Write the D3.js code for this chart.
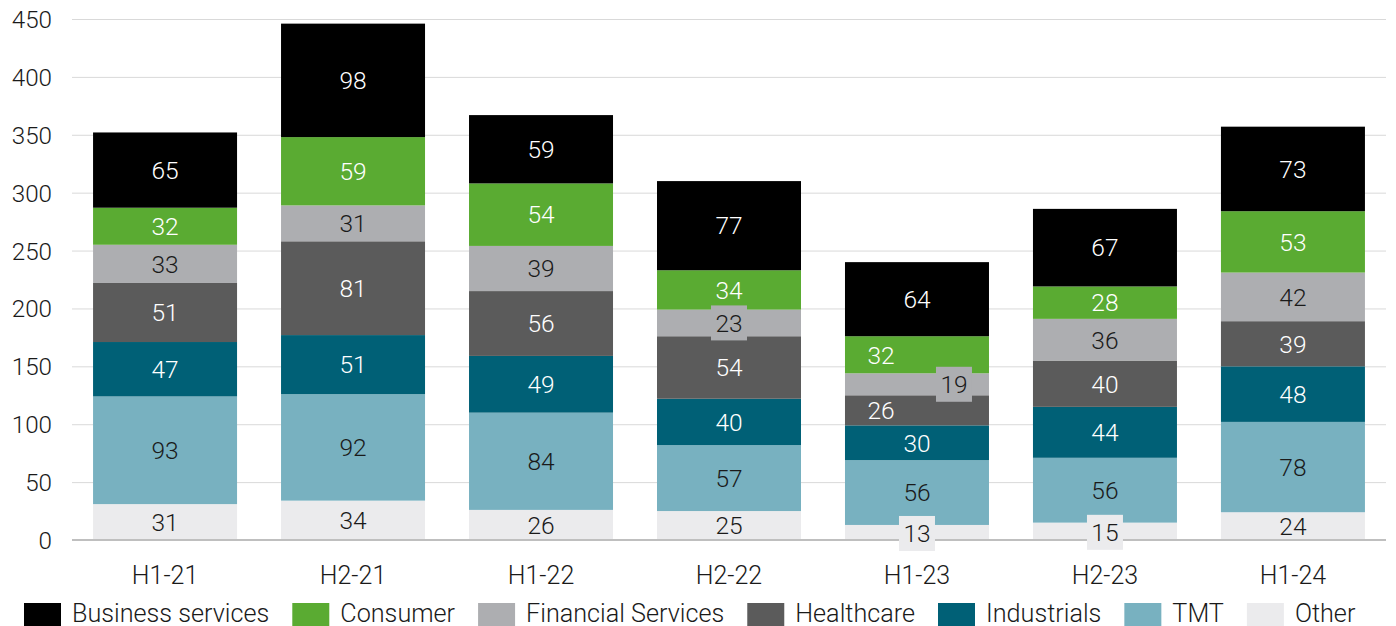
<!DOCTYPE html>
<html><head><meta charset="utf-8">
<script src="https://cdn.jsdelivr.net/npm/d3@7"></script>
<style>
html,body{margin:0;padding:0;background:#fff;}
svg{display:block;font-family:Roboto,"Noto Sans",sans-serif;font-weight:300;}
</style></head>
<body><svg id="chart" width="1396" height="626"></svg>
<script>
const categories = ["H1-21","H2-21","H1-22","H2-22","H1-23","H2-23","H1-24"];
const seriesNames = ["Other","TMT","Industrials","Healthcare","Financial Services","Consumer","Business services"];
const other      = [31,34,26,25,13,15,24];
const tmt        = [93,92,84,57,56,56,78];
const industrials= [47,51,49,40,30,44,48];
const healthcare = [51,81,56,54,26,40,39];
const financial  = [33,31,39,23,19,36,42];
const consumer   = [32,59,54,34,32,28,53];
const business   = [65,98,59,77,64,67,73];
const yTicks = [0,50,100,150,200,250,300,350,400,450];
const legendOrder = ["Business services","Consumer","Financial Services","Healthcare","Industrials","TMT","Other"];

const seriesValues = {"Other":other,"TMT":tmt,"Industrials":industrials,"Healthcare":healthcare,
  "Financial Services":financial,"Consumer":consumer,"Business services":business};
const colors = {"Business services":"#000000","Consumer":"#5aab32","Financial Services":"#adaeb1",
  "Healthcare":"#5b5b5b","Industrials":"#006076","TMT":"#78b1c0","Other":"#ebebed"};
const labelColors = {"Business services":"#fff","Consumer":"#fff","Financial Services":"#1a1a1a",
  "Healthcare":"#fff","Industrials":"#fff","TMT":"#1a1a1a","Other":"#1a1a1a"};
// label nudges (px) and boxed labels
const nudge = {"H1-23|Financial Services":37,"H1-23|Consumer":-36,"H1-23|Healthcare":-36};
const boxed = {"H2-22|Financial Services":true,"H1-23|Financial Services":true,"H1-23|Other":true,"H2-23|Other":true};
const boxShiftY = {"H1-23|Other":1,"H2-23|Other":1};

const rows = categories.map((c,i)=>{const r={cat:c}; seriesNames.forEach(s=>r[s]=seriesValues[s][i]); return r;});
const stack = d3.stack().keys(seriesNames)(rows);

const svg = d3.select("#chart");
const x = d3.scaleBand().domain(categories).range([72,1386]).paddingInner(0.234).paddingOuter(0.112);
const y = d3.scaleLinear().domain([0,450]).range([540,19]);

// gridlines
svg.append("g").selectAll("line").data(yTicks.filter(t=>t>0)).join("line")
  .attr("x1",72).attr("x2",1386).attr("y1",d=>y(d)+0.5).attr("y2",d=>y(d)+0.5)
  .attr("stroke","#d9d9d9").attr("stroke-width",1);

// y axis labels
const yAxis = d3.axisLeft(y).tickValues(yTicks).tickSize(0).tickPadding(0);
const yg = svg.append("g").attr("transform","translate(52,0)").call(yAxis);
yg.select(".domain").remove();
yg.selectAll("text").attr("font-size",24.2).attr("fill","#1a1a1a").attr("font-family","Roboto").attr("font-weight",300).attr("dy","0.35em");

// bars
const groups = svg.append("g").selectAll("g").data(stack).join("g").attr("fill",d=>colors[d.key]);
groups.selectAll("rect").data(d=>d.map(p=>({p,key:d.key}))).join("rect")
  .attr("x",d=>x(d.p.data.cat)).attr("width",x.bandwidth())
  .attr("y",d=>y(d.p[1])).attr("height",d=>y(d.p[0])-y(d.p[1]));

// x axis baseline
svg.append("line").attr("x1",72).attr("x2",1386).attr("y1",540).attr("y2",540).attr("stroke","#bfbfbf").attr("stroke-width",2);

const xAxis = d3.axisBottom(x).tickSize(0).tickPadding(0);
const xg = svg.append("g").attr("transform","translate(0,575)").call(xAxis);
xg.select(".domain").remove();
xg.selectAll("text").attr("font-size",25).attr("fill","#1a1a1a").attr("font-family","Roboto").attr("font-weight",300).attr("dy","0.35em");

// labels
const labels = svg.append("g");
stack.forEach(layer=>{
  layer.forEach(p=>{
    const key = p.data.cat+"|"+layer.key;
    const val = p[1]-p[0];
    const cx = x(p.data.cat)+x.bandwidth()/2+(nudge[key]||0);
    const cy = (y(p[0])+y(p[1]))/2+(boxShiftY[key]||0);
    if(boxed[key]){
      labels.append("rect").attr("x",cx-18).attr("y",cy-17.5).attr("width",36).attr("height",35)
        .attr("fill",colors[layer.key]);
    }
    labels.append("text").attr("x",cx).attr("y",cy).attr("dy","0.36em").attr("text-anchor","middle")
      .attr("font-size",24.5).attr("fill",labelColors[layer.key]).text(val);
  });
});

// legend
const lg = svg.append("g");
let lx = 24;
legendOrder.forEach(name=>{
  lg.append("rect").attr("x",lx).attr("y",603).attr("width",37).attr("height",30).attr("fill",colors[name]);
  const t = lg.append("text").attr("x",lx+48).attr("y",622).attr("font-size",25.2).attr("fill","#1a1a1a").text(name);
  const w = t.node().getComputedTextLength();
  lx = lx+48+w+23;
});
</script></body></html>
